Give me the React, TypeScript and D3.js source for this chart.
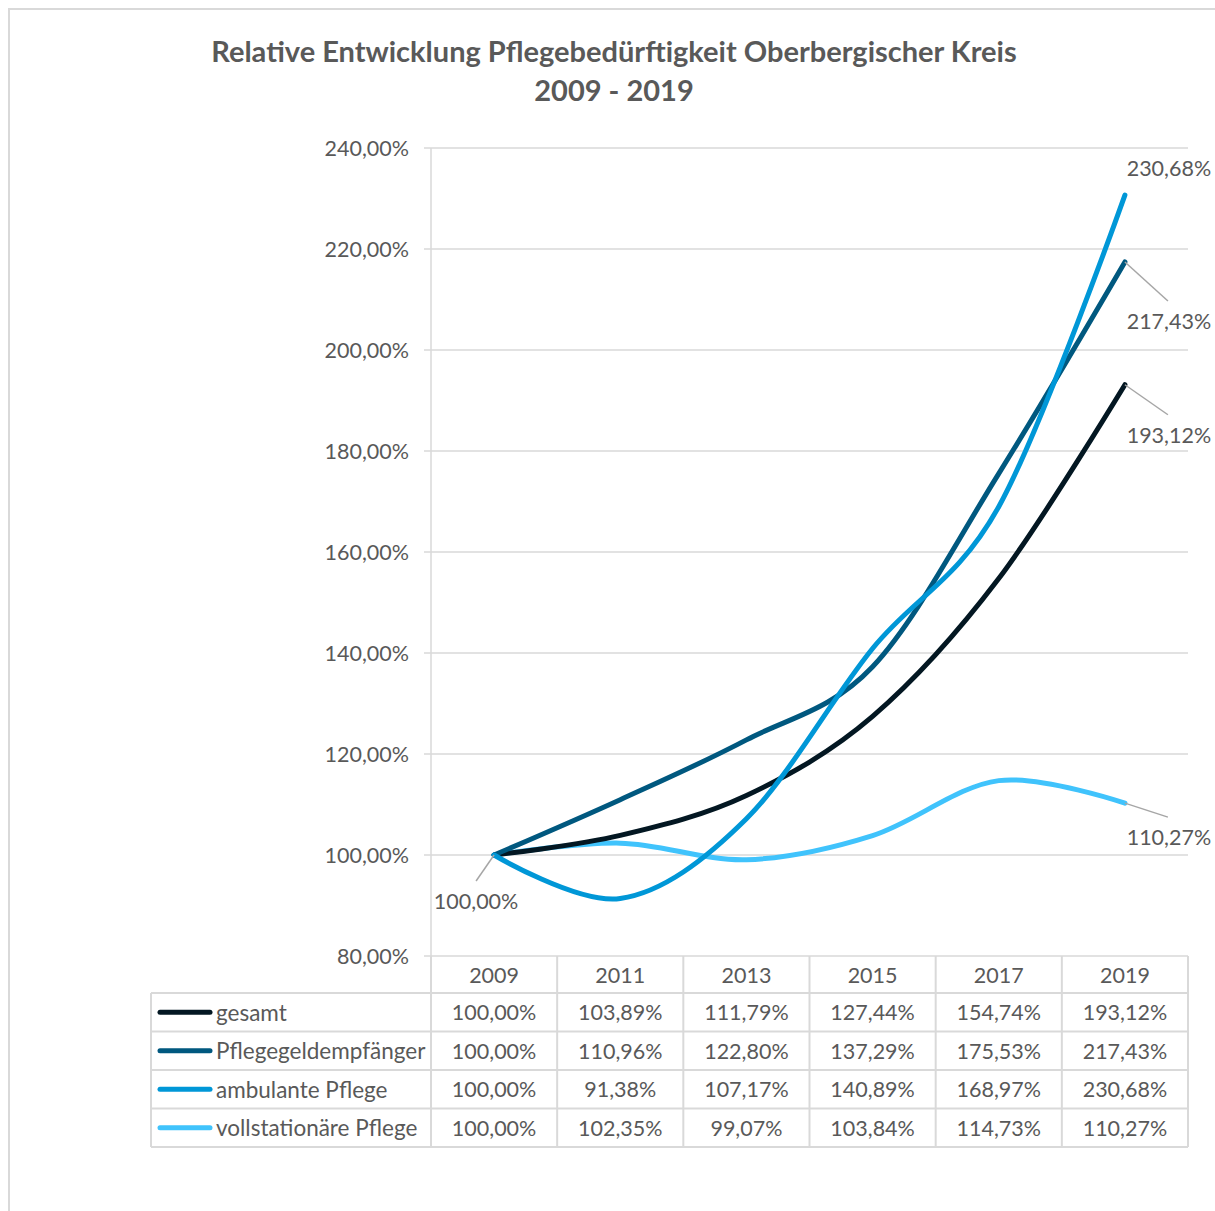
import React from "react";
import * as d3 from "d3";

const years = ["2009", "2011", "2013", "2015", "2017", "2019"];
const seriesNames = ["gesamt", "Pflegegeldempfänger", "ambulante Pflege", "vollstationäre Pflege"];
const gesamt = [100.0, 103.89, 111.79, 127.44, 154.74, 193.12];
const pflegegeld = [100.0, 110.96, 122.8, 137.29, 175.53, 217.43];
const ambulant = [100.0, 91.38, 107.17, 140.89, 168.97, 230.68];
const vollstationaer = [100.0, 102.35, 99.07, 103.84, 114.73, 110.27];
const yTicks = [80, 100, 120, 140, 160, 180, 200, 220, 240];
const colors = ["#031722", "#00587f", "#0097d7", "#40c3fc"];
const titleLines = ["Relative Entwicklung Pflegebedürftigkeit Oberbergischer Kreis", "2009 - 2019"];

const allSeries = [gesamt, pflegegeld, ambulant, vollstationaer];

const fmt = (v: number) => v.toFixed(2).replace(".", ",") + "%";

const FONT = "Lato, 'Open Sans', sans-serif";
const TEXT = "#595959";
const GRID = "#d9d9d9";
const FS = 21.5;

export default function App() {
  const left = 431;
  const right = 1188;
  const top = 148;
  const bottom = 956;
  const x = d3.scaleBand<string>().domain(years).range([left, right]);
  const y = d3.scaleLinear().domain([80, 240]).range([bottom, top]);
  const cx = (i: number) => (x(years[i]) as number) + x.bandwidth() / 2;
  const line = d3
    .line<number>()
    .x((_, i) => cx(i))
    .y((d) => y(d))
    .curve(d3.curveCatmullRom.alpha(0));

  const headerBottom = 993;
  const rowH = 38.5;
  const tableLeft = 151;

  // data labels: [seriesIndex, pointIndex, dx, dy, leader?]
  const labels: [number, number, number, number, boolean][] = [
    [2, 5, 44, -27, false],
    [1, 5, 44, 59, true],
    [0, 5, 44, 50, true],
    [3, 5, 44, 34, true],
    [3, 0, -18, 46, true],
  ];

  return (
    <svg
      width={1215}
      height={1211}
      style={{ position: "absolute", left: 0, top: 0, display: "block", background: "#fff" }}
      fontFamily={FONT}
    >
      <rect x={9} y={9} width={1300} height={1300} fill="#fff" stroke={GRID} strokeWidth={2} />
      {titleLines.map((t, i) => (
        <text
          key={i}
          x={614}
          y={50 + i * 39}
          textAnchor="middle"
          dominantBaseline="central"
          fontSize={29}
          fontWeight="bold"
          fill={TEXT}
        >
          {t}
        </text>
      ))}
      {/* gridlines */}
      {yTicks.map((t) => (
        <g key={t}>
          <line x1={424} x2={right} y1={y(t)} y2={y(t)} stroke={GRID} strokeWidth={1.5} />
          <text
            x={409}
            y={y(t)}
            textAnchor="end"
            dominantBaseline="central"
            fontSize={FS}
            fill={TEXT}
          >
            {fmt(t)}
          </text>
        </g>
      ))}
      {/* vertical axis line */}
      <line x1={left} x2={left} y1={top} y2={headerBottom} stroke={GRID} strokeWidth={1.5} />
      {/* table */}
      <g stroke={GRID} strokeWidth={2} fill="none">
        {years.map((yr, i) => (
          <line
            key={yr}
            x1={(x(yr) as number) + x.bandwidth()}
            x2={(x(yr) as number) + x.bandwidth()}
            y1={bottom}
            y2={headerBottom + rowH * 4}
          />
        ))}
        <line x1={left} x2={left} y1={bottom} y2={headerBottom + rowH * 4} />
        <line x1={tableLeft} x2={tableLeft} y1={headerBottom} y2={headerBottom + rowH * 4} />
        {[0, 1, 2, 3, 4].map((r) => (
          <line
            key={r}
            x1={tableLeft}
            x2={right}
            y1={headerBottom + rowH * r}
            y2={headerBottom + rowH * r}
          />
        ))}
      </g>
      {years.map((yr, i) => (
        <text
          key={yr}
          x={cx(i)}
          y={(bottom + headerBottom) / 2}
          textAnchor="middle"
          dominantBaseline="central"
          fontSize={FS}
          fill={TEXT}
        >
          {yr}
        </text>
      ))}
      {allSeries.map((s, r) => (
        <g key={r}>
          <line
            x1={160}
            x2={210}
            y1={headerBottom + rowH * (r + 0.5)}
            y2={headerBottom + rowH * (r + 0.5)}
            stroke={colors[r]}
            strokeWidth={5}
            strokeLinecap="round"
          />
          <text
            x={216}
            y={headerBottom + rowH * (r + 0.5)}
            dominantBaseline="central"
            fontSize={22.5}
            fill={TEXT}
          >
            {seriesNames[r]}
          </text>
          {s.map((v, i) => (
            <text
              key={i}
              x={cx(i)}
              y={headerBottom + rowH * (r + 0.5)}
              textAnchor="middle"
              dominantBaseline="central"
              fontSize={FS}
              fill={TEXT}
            >
              {fmt(v)}
            </text>
          ))}
        </g>
      ))}
      {/* lines, drawn bottom-first */}
      {[3, 0, 1, 2].map((r) => (
        <path
          key={r}
          d={line(allSeries[r]) as string}
          fill="none"
          stroke={colors[r]}
          strokeWidth={5}
          strokeLinecap="round"
          strokeLinejoin="round"
        />
      ))}
      {/* data labels */}
      {labels.map(([s, i, dx, dy, leader], k) => {
        const px = cx(i);
        const py = y(allSeries[s][i]);
        const lx = px + dx;
        const ly = py + dy;
        return (
          <g key={k}>
            {leader && (
              <line
                x1={px}
                y1={py}
                x2={dx > 0 ? lx - 1 : lx}
                y2={ly - 20}
                stroke="#a6a6a6"
                strokeWidth={1.5}
              />
            )}
            <text
              x={lx}
              y={ly}
              textAnchor="middle"
              dominantBaseline="central"
              fontSize={FS}
              fill={TEXT}
            >
              {fmt(allSeries[s][i])}
            </text>
          </g>
        );
      })}
    </svg>
  );
}
